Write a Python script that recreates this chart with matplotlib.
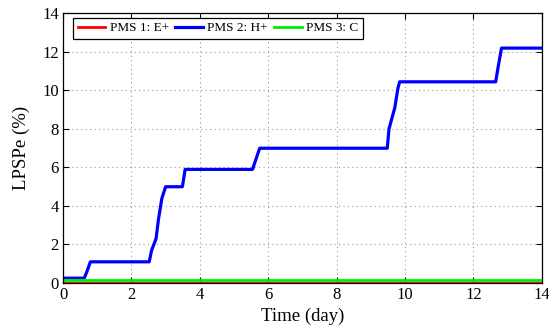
import matplotlib
matplotlib.use("Agg")
import matplotlib.pyplot as plt

# loss of power supply probability (energy), per management strategy
t_e = [0, 14]
lpsp_e = [0.0, 0.0]

t_c = [0, 14]
lpsp_c = [0.13, 0.13]

t_h = [0, 0.62, 0.7, 0.8, 2.52, 2.59, 2.72, 2.79, 2.89, 3.0, 3.49, 3.57,
       5.54, 5.75, 9.48, 9.53, 9.7, 9.79, 9.84, 12.65, 12.72, 12.82, 14]
lpsp_h = [0.25, 0.25, 0.6, 1.1, 1.1, 1.7, 2.3, 3.3, 4.4, 5.0, 5.0, 5.9,
          5.9, 7.0, 7.0, 8.0, 9.1, 10.1, 10.45, 10.45, 11.2, 12.2, 12.2]

plt.rcParams['font.family'] = ['Liberation Serif', 'DejaVu Serif']
plt.rcParams['font.size'] = 12

fig = plt.figure(figsize=(5.49, 3.34), dpi=100)
ax = fig.add_axes([0.1148, 0.1527, 0.8722, 0.807])

ax.plot(t_e, lpsp_e, color='#ff0000', lw=2.0, label='PMS 1: E+', zorder=4)
ax.plot(t_h, lpsp_h, color='#0000ff', lw=2.3, label='PMS 2: H+', zorder=3)
ax.plot(t_c, lpsp_c, color='#00ee00', lw=2.0, label='PMS 3: C', zorder=3)

ax.set_xlim(0, 14)
ax.set_ylim(0, 14)
ax.set_xticks(range(0, 15, 2))
ax.set_yticks(range(0, 15, 2))
ax.tick_params(direction='in', top=True, right=True, length=4, width=0.8,
               labelsize=12, pad=3)
ax.grid(True, linestyle=(0, (1, 3)), color='#999999', lw=0.8)
for s in ax.spines.values():
    s.set_linewidth(0.9)
    s.set_zorder(5)

ax.set_xlabel('Time (day)', fontsize=13.5, labelpad=3)
ax.set_ylabel('LPSPe (%)', fontsize=13.5, labelpad=9)

leg = ax.legend(loc='upper left', ncol=3, fontsize=9.5, fancybox=False,
                framealpha=1, edgecolor='black', borderpad=0.35,
                borderaxespad=0, handlelength=2.1, handletextpad=0.35,
                columnspacing=0.45, bbox_to_anchor=(0.021, 0.985))
leg.get_frame().set_linewidth(0.9)

fig.savefig('out.png', dpi=100)
